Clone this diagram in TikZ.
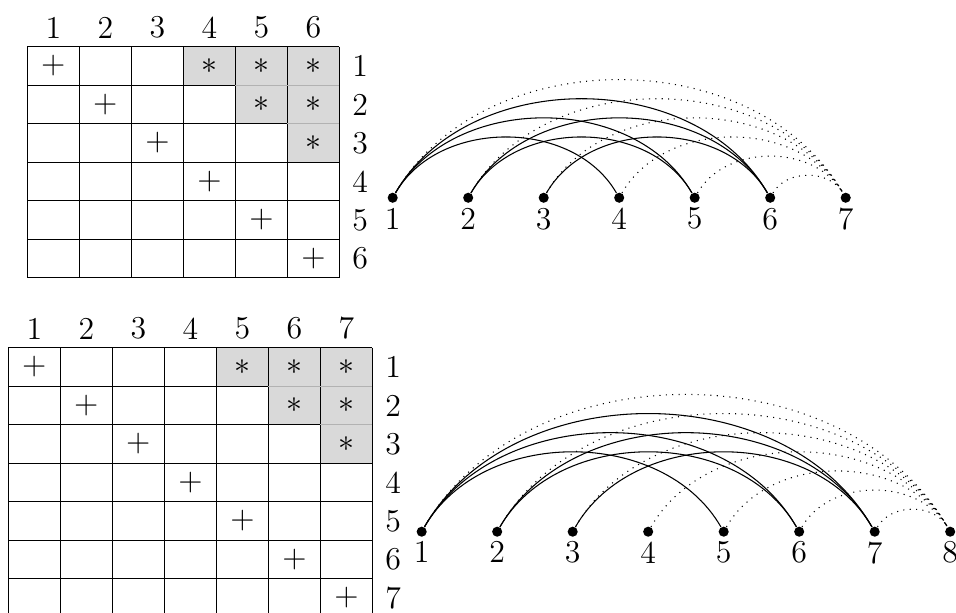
\documentclass[tikz,border=0pt]{standalone}
\begin{document}
\begin{tikzpicture}[every node/.style={font=\large}, >=latex,
  vtx/.style={circle, fill=black, inner sep=0pt, minimum size=3.8pt},
  shadebox/.style={fill=gray!30},
  gridline/.style={black},
  softline/.style={gray!60},
  hit/.style={dotted, black}]
\useasboundingbox (0,0) rectangle (12.662,-8.106);

% top matrix, 6 x 6
\begin{scope}[shift={(0.362,-0.619)}, x=0.689cm, y=-0.51cm]
\foreach \r/\c in {1/4,1/5,1/6,2/5,2/6,3/6}
  \fill[shadebox] (\c-1,\r-1) rectangle (\c,\r);
\foreach \i in {0,...,6} {
  \draw[gridline] (\i,0) -- (\i,6);
  \draw[gridline] (0,\i) -- (6,\i);
}
\draw[softline] (4,1) -- (6,1) (5,2) -- (6,2);
\foreach \i in {1,...,6} {
  \node (pa\i) at (\i-0.5,\i-0.5) {$+$};
  \node (ca\i) at (\i-0.5,-0.5) {\i};
  \node (ra\i) at (6.4,\i-0.5) {\i};
}
\foreach \r/\c in {1/4,1/5,1/6,2/5,2/6,3/6}
  \node (sa\r\c) at (\c-0.5,\r-0.5) {$*$};
\end{scope}

% bottom matrix, 7 x 7
\begin{scope}[shift={(0.110,-4.605)}, x=0.689cm, y=-0.51cm]
\foreach \r/\c in {1/5,1/6,1/7,2/6,2/7,3/7}
  \fill[shadebox] (\c-1,\r-1) rectangle (\c,\r);
\foreach \i in {0,...,7} {
  \draw[gridline] (\i,0) -- (\i,7);
  \draw[gridline] (0,\i) -- (7,\i);
}
\draw[softline] (5,1) -- (7,1) (6,2) -- (7,2);
\foreach \i in {1,...,7} {
  \node (pb\i) at (\i-0.5,\i-0.5) {$+$};
  \node (cb\i) at (\i-0.5,-0.5) {\i};
  \node (rb\i) at (7.4,\i-0.5) {\i};
}
\foreach \r/\c in {1/5,1/6,1/7,2/6,2/7,3/7}
  \node (sb\r\c) at (\c-0.5,\r-0.5) {$*$};
\end{scope}

% top arc diagram
\foreach \i in {1,...,7}
  \node[vtx, label={[inner sep=1.5pt]below:\i}] (a\i) at (5.201+\i-1,-2.619) {};
\foreach \u/\v in {1/4,1/5,1/6,2/5,2/6,3/6}
  \draw (a\u) to[bend left=60] (a\v);
\foreach \u in {1,...,6}
  \draw[hit] (a\u) to[bend left=60] (a7);

% bottom arc diagram
\foreach \i in {1,...,8}
  \node[vtx, label={[inner sep=1.5pt]below:\i}] (b\i) at (5.585+\i-1,-7.042) {};
\foreach \u/\v in {1/5,1/6,1/7,2/6,2/7,3/7}
  \draw (b\u) to[bend left=60] (b\v);
\foreach \u in {1,...,7}
  \draw[hit] (b\u) to[bend left=60] (b8);
\end{tikzpicture}
\end{document}
